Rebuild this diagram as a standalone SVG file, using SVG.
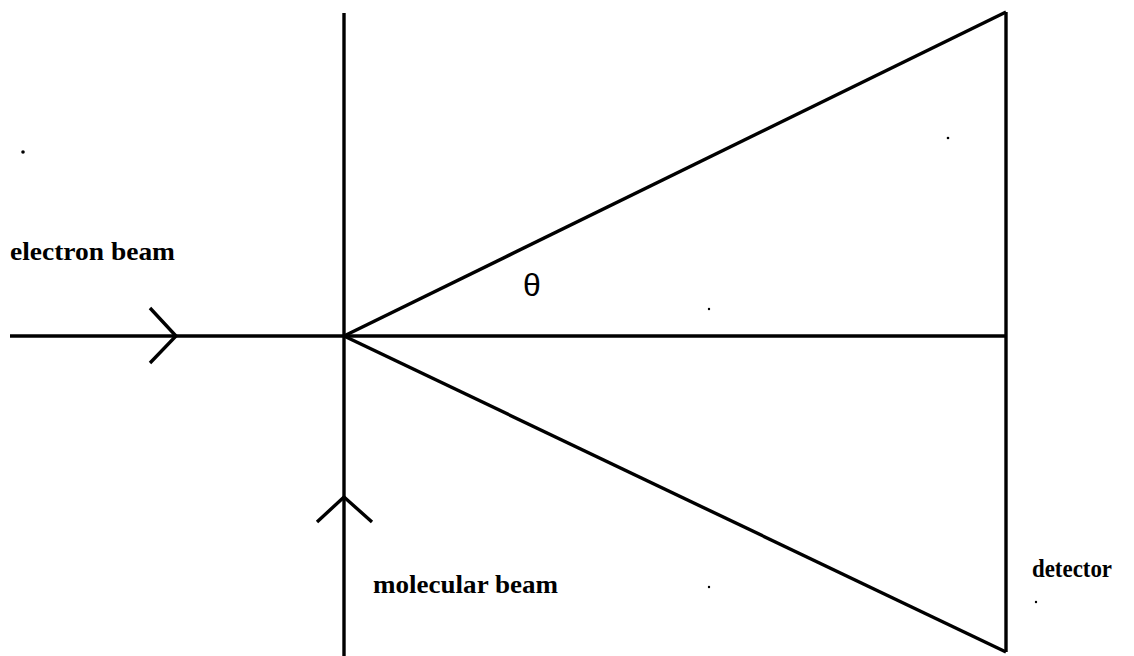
<svg xmlns="http://www.w3.org/2000/svg" width="1134" height="656" viewBox="0 0 1134 656">
<style>
.ln{stroke:#000;stroke-width:3.4;fill:none;stroke-linecap:butt;stroke-linejoin:miter}
.lbl{font-family:"Liberation Serif","Times New Roman",serif;font-weight:bold;font-size:26px;fill:#000}
.sym{font-family:"Liberation Sans",Arial,sans-serif;font-size:32px;fill:#000}
.dot{fill:#000}
</style>
<rect width="1134" height="656" fill="#fff"/>
<g id="connectors">
<line class="ln" x1="10" y1="336" x2="1006" y2="336"/>
<line class="ln" x1="344" y1="13" x2="344" y2="656"/>
<line class="ln" x1="1006" y1="12" x2="1006" y2="652"/>
<line class="ln" x1="344" y1="336" x2="1006" y2="12"/>
<line class="ln" x1="344" y1="336" x2="1006" y2="652"/>
<polyline class="ln" points="150,308 176,336 150,363"/>
<polyline class="ln" points="317,522 344,497 372,522"/>
</g>
<g id="electron-beam"><text class="lbl" x="10" y="260" textLength="165" lengthAdjust="spacingAndGlyphs">electron beam</text></g>
<g id="molecular-beam"><text class="lbl" x="373" y="593" textLength="185" lengthAdjust="spacingAndGlyphs">molecular beam</text></g>
<g id="detector"><text class="lbl" x="1032" y="577" textLength="80" lengthAdjust="spacingAndGlyphs">detector</text></g>
<g id="theta"><text class="sym" x="523" y="296">θ</text></g>
<g id="specks">
<circle class="dot" cx="23" cy="152" r="1.8"/>
<circle class="dot" cx="948" cy="138" r="1.3"/>
<circle class="dot" cx="709" cy="309" r="1.2"/>
<circle class="dot" cx="709" cy="587" r="1.2"/>
<circle class="dot" cx="1036" cy="602" r="1.2"/>
</g>
</svg>
